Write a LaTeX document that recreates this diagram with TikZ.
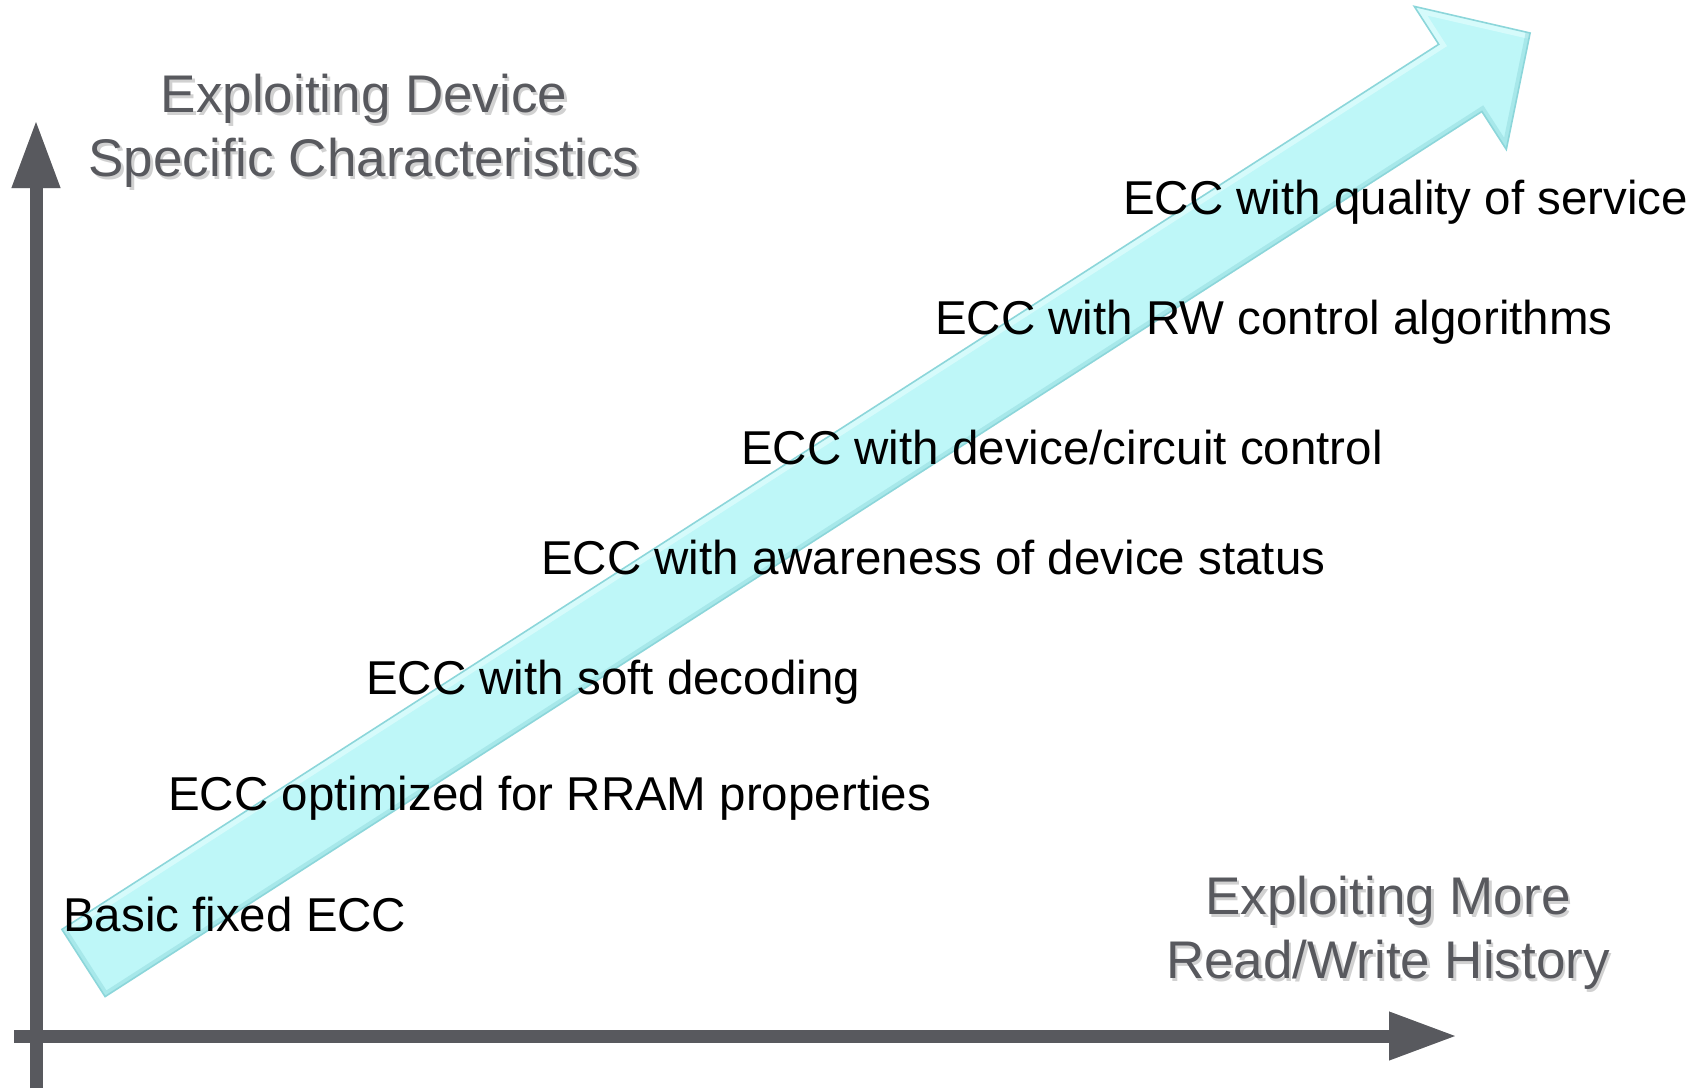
\documentclass[tikz,border=0pt]{standalone}
\usepackage{fontspec}
\setmainfont{Liberation Sans}
\usetikzlibrary{arrows.meta}
\definecolor{axisgray}{RGB}{88,89,94}
\definecolor{aqua}{RGB}{190,247,248}
\definecolor{aquaedge}{RGB}{140,214,218}
\definecolor{aquahi}{RGB}{225,253,253}
\begin{document}
\begin{tikzpicture}[x=1pt,y=-1pt,
  axis/.style={line width=13pt,draw=axisgray,-{Triangle[length=68pt,width=45pt]}},
  axisshadow/.style={line width=13pt,draw=black,opacity=0.18,-{Triangle[length=68pt,width=45pt]}},
  axlabel/.style={text=axisgray,align=center,font=\fontsize{53}{64}\selectfont,inner sep=0pt},
  axlabelshadow/.style={text=black,opacity=0.18,align=center,font=\fontsize{53}{64}\selectfont,inner sep=0pt},
  steplabel/.style={anchor=base west,inner sep=0pt,text=black,font=\fontsize{47.5}{57}\selectfont}]
\useasboundingbox (0,0) rectangle (1701,1088);
% big arrow corners
\coordinate (a1) at (61.9,929.4);
\coordinate (a2) at (1438.7,44.3);
\coordinate (a3) at (1414.3,6.4);
\coordinate (a4) at (1530.1,33.0);
\coordinate (a5) at (1506.3,149.4);
\coordinate (a6) at (1481.9,111.5);
\coordinate (a7) at (105.1,996.6);
% shadow of big arrow
\fill[black,opacity=0.12,shift={(3,5)}] (a1) -- (a2) -- (a3) -- (a4) -- (a5) -- (a6) -- (a7) -- cycle;
% big arrow
\fill[aqua] (a1) -- (a2) -- (a3) -- (a4) -- (a5) -- (a6) -- (a7) -- cycle;
\begin{scope}
  \clip (a1) -- (a2) -- (a3) -- (a4) -- (a5) -- (a6) -- (a7) -- cycle;
  \draw[aquahi,line width=12pt,opacity=0.7] (a1) -- (a2) -- (a3) -- (a4);
  \draw[aquaedge,line width=9pt,opacity=0.45] (a4) -- (a5) -- (a6) -- (a7) -- (a1);
\end{scope}
\draw[aquaedge,line width=1.6pt,line join=miter] (a1) -- (a2) -- (a3) -- (a4) -- (a5) -- (a6) -- (a7) -- cycle;
% axes
\coordinate (ybot) at (36,1088);
\coordinate (ytop) at (36,120);
\coordinate (xleft) at (14,1036);
\coordinate (xright) at (1457,1036);
\draw[axisshadow,shift={(4,4)}] (ybot) -- (ytop);
\draw[axisshadow,shift={(3,5)}] (xleft) -- (xright);
\draw[axis] (ybot) -- (ytop);
\draw[axis] (xleft) -- (xright);
% axis labels
\node[axlabelshadow] at (366.5,134) {Exploiting Device\\Specific Characteristics};
\node[axlabel] (ylab) at (364,131) {Exploiting Device\\Specific Characteristics};
\node[axlabelshadow] at (1390.5,936) {Exploiting More\\Read/Write History};
\node[axlabel] (xlab) at (1388,933) {Exploiting More\\Read/Write History};
% step labels
\node[steplabel] (s7) at (1123,214) {ECC with quality of service};
\node[steplabel] (s6) at (935,334) {ECC with RW control algorithms};
\node[steplabel] (s5) at (741,464) {ECC with device/circuit control};
\node[steplabel] (s4) at (541,574) {ECC with awareness of device status};
\node[steplabel] (s3) at (366,694) {ECC with soft decoding};
\node[steplabel] (s2) at (168,810) {ECC optimized for RRAM properties};
\node[steplabel] (s1) at (63,931) {Basic fixed ECC};
\end{tikzpicture}
\end{document}
